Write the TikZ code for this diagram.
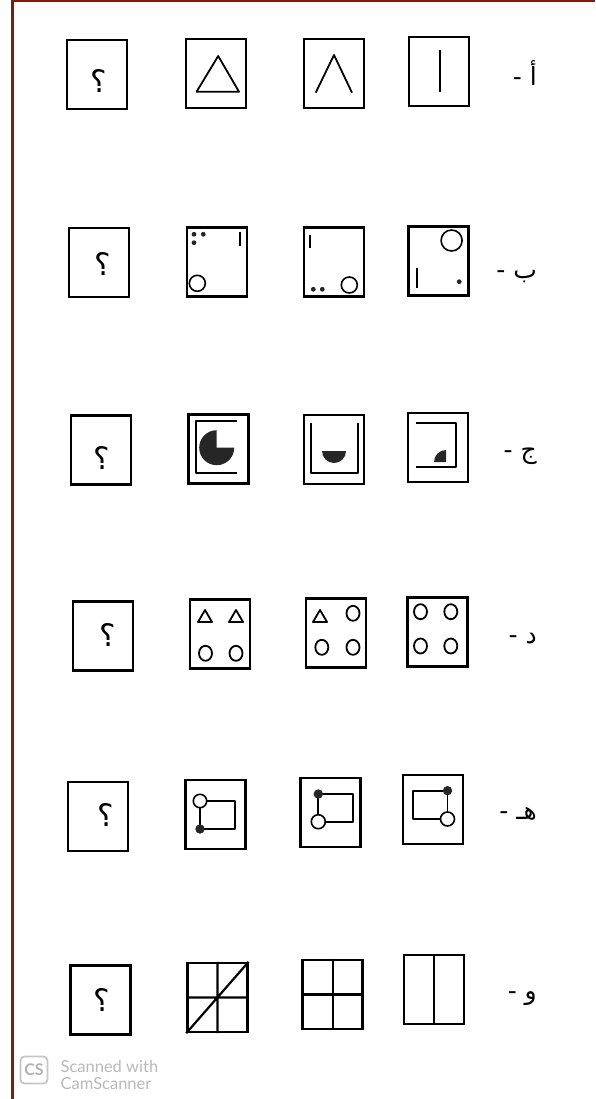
\documentclass[tikz,border=0pt]{standalone}
\usepackage{fontspec}
\usepackage{tikz}
\usepackage{xcolor}
\usetikzlibrary{positioning, calc}
\TeXXeTstate=1
\newfontfamily\arabicfont[Script=Arabic]{DejaVu Sans}
\newfontfamily\camfont{Lato}
\definecolor{scanred}{HTML}{7A1E14}
\definecolor{inkgray}{HTML}{262626}
\tikzstyle{frame} = [rectangle, draw=black, line width=2.4pt, minimum width=60pt,
                     minimum height=69pt, inner sep=0pt]
\tikzstyle{qmark} = [font=\arabicfont\fontsize{31}{31}\selectfont, inner sep=0pt]
\tikzstyle{rowtag} = [font=\arabicfont\fontsize{25}{25}\selectfont, inner sep=0pt,
                      anchor=base east]
\tikzstyle{figline} = [line width=1.8pt, line join=round]
\tikzstyle{gridline} = [line width=2.2pt]
\tikzstyle{hollow} = [draw=black, line width=1.6pt, fill=white]
\tikzstyle{blob} = [fill=inkgray]

\begin{document}
\begin{tikzpicture}[x=1pt, y=-1pt]
    \useasboundingbox (0,0) rectangle (595,1099);
    \fill[white] (0,0) rectangle (595,1099);
    \draw[scanred, line width=2.6pt] (12.7,1099) -- (12.7,1) -- (595,1);

    \node[frame] (a1) at (97,74.7) {};
    \node[qmark] (q1) at (98.7,81) {؟};
    \node[frame] (a2) at (216,73.7) {};
    \draw[figline] (218.2,56) -- (196.6,91.7) -- (239,91.7) -- cycle;
    \node[frame] (a3) at (334,73.7) {};
    \draw[figline] (315.7,92.7) -- (334,55) -- (352,92.7);
    \node[frame] (a4) at (438.7,71.7) {};
    \draw[figline] (440.2,50) -- (440.2,91.7);
    \node[rowtag] (t1) at (537,86) {\beginR أ -\endR};

    \node[frame] (b1) at (98.7,262.5) {};
    \node[qmark] (q2) at (102.5,264) {؟};
    \node[frame] (b2) at (217,262) {};
    \fill[blob] (194,234.3) circle (2.4) (203.3,234.3) circle (2.4) (194,242.7) circle (2.4);
    \draw[figline] (240,231.7) -- (240,246);
    \draw[hollow] (197.3,283.3) circle (8);
    \node[frame] (b3) at (333.7,262) {};
    \draw[figline] (310,235) -- (310,248.3);
    \fill[blob] (313.3,289.3) circle (2.4) (322.3,289.3) circle (2.4);
    \draw[hollow] (349.3,285) circle (8);
    \node[frame] (b4) at (438.3,261) {};
    \draw[hollow] (451.6,240.5) circle (10.5);
    \draw[figline] (416.7,268) -- (416.7,288);
    \fill[blob] (459.2,281.7) circle (2.4);
    \node[rowtag] (t2) at (537,278) {\beginR ب -\endR};

    \node[frame] (c1) at (101,450) {};
    \node[qmark] (q3) at (101.7,458) {؟};
    \node[frame] (c2) at (218.3,448.8) {};
    \draw[figline] (236.7,421) -- (195.7,421) -- (195.7,473.3) -- (236.7,473.3);
    \fill[blob] (216.7,447.7) -- (234.2,447.7) arc[start angle=0, end angle=270, radius=17.5] -- cycle;
    \node[frame] (c3) at (334.2,449.2) {};
    \draw[figline] (311,423.3) -- (311,473.3) -- (357.7,473.3) -- (357.7,423.3);
    \fill[blob] (346,451) arc[start angle=0, end angle=180, radius=12] -- cycle;
    \node[frame] (c4) at (437.8,447.2) {};
    \draw[figline] (415.6,423.3) -- (456.2,423.3) -- (456.2,466.7) -- (415.6,466.7);
    \fill[blob] (446,462) -- (434,462) arc[start angle=180, end angle=270, radius=12] -- cycle;
    \node[rowtag] (t3) at (537,458) {\beginR ج -\endR};

    \node[frame] (d1) at (102.8,635.8) {};
    \node[qmark] (q4) at (107.4,635) {؟};
    \node[frame] (d2) at (220,634) {};
    \draw[figline] (198,622) -- (205,610) -- (212,622) -- cycle;
    \draw[figline] (229,622) -- (236,610) -- (243,622) -- cycle;
    \draw[figline] (205.5,653.3) ellipse (6.5 and 7.5) (236,653.3) ellipse (6.5 and 7.5);
    \node[frame] (d3) at (336,633) {};
    \draw[figline] (313,622) -- (320,610) -- (327,622) -- cycle;
    \draw[figline] (353,613.3) ellipse (6.5 and 7.5) (321.8,647.3) ellipse (6.5 and 7.5)
                   (353,647.3) ellipse (6.5 and 7.5);
    \node[frame] (d4) at (437.4,632) {};
    \draw[figline] (420.5,611.7) ellipse (6.5 and 7.5) (450.8,611.7) ellipse (6.5 and 7.5)
                   (420.5,646) ellipse (6.5 and 7.5) (450.8,646) ellipse (6.5 and 7.5);
    \node[rowtag] (t4) at (537,643) {\beginR د -\endR};

    \node[frame] (e1) at (98,816.3) {};
    \node[qmark] (q5) at (105.5,815) {؟};
    \node[frame] (e2) at (215.3,814.7) {};
    \draw[figline] (200,801) rectangle (235,829);
    \draw[hollow] (200,801) circle (6.7);
    \fill[blob] (200,829) circle (4.7);
    \node[frame] (e3) at (330.3,812.2) {};
    \draw[figline] (318.3,794) rectangle (353.3,821.7);
    \fill[blob] (318.3,794) circle (4.7);
    \draw[hollow] (318.3,821.7) circle (7);
    \node[frame] (e4) at (432.8,809.7) {};
    \draw[figline] (413,790.7) rectangle (447.5,819);
    \fill[blob] (447.5,790.7) circle (4.7);
    \draw[hollow] (447.5,819) circle (7);
    \node[rowtag] (t5) at (537,819) {\beginR هـ -\endR};

    \node[frame] (f1) at (100.6,1000) {};
    \node[qmark] (q6) at (101.7,1000) {؟};
    \node[frame] (f2) at (217.4,997.5) {};
    \draw[gridline] (f2.north) -- (f2.south) (f2.west) -- (f2.east) (f2.south west) -- (f2.north east);
    \node[frame] (f3) at (332.6,994.5) {};
    \draw[gridline] (f3.north) -- (f3.south) (f3.west) -- (f3.east);
    \node[frame] (f4) at (434.2,989.7) {};
    \draw[gridline] (f4.north) -- (f4.south);
    \node[rowtag] (t6) at (537,999) {\beginR و -\endR};

    \node[draw=gray!45, line width=1.8pt, rounded corners=4pt, minimum size=27pt, inner sep=0pt,
          text=gray!60, font=\camfont\bfseries\fontsize{16}{16}\selectfont] (cs) at (34,1070) {CS};
    \node[right=12pt of cs, yshift=-5pt, align=left, inner sep=0pt, text=gray!55,
          font=\camfont\fontsize{16.5}{17.5}\selectfont] (scan) {Scanned with\\CamScanner};
\end{tikzpicture}
\end{document}
